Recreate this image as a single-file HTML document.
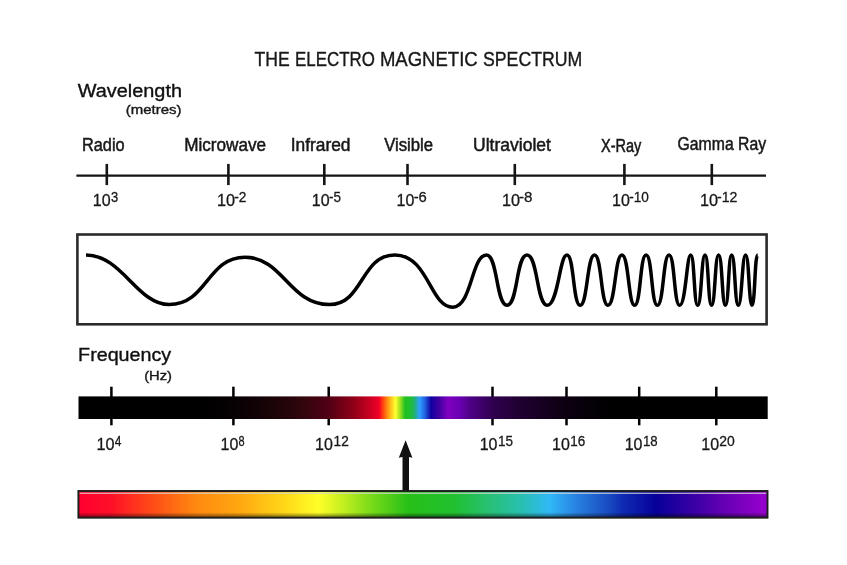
<!DOCTYPE html>
<html><head><meta charset="utf-8"><title>The Electro Magnetic Spectrum</title>
<style>html,body{margin:0;padding:0;background:#fff}svg{display:block}</style></head>
<body>
<svg width="847" height="565" viewBox="0 0 847 565" font-family='"Liberation Sans", sans-serif'>
<defs>
<linearGradient id="fg" gradientUnits="userSpaceOnUse" x1="78" y1="0" x2="768" y2="0">
<stop offset="0.0000" stop-color="#000000"/>
<stop offset="0.1768" stop-color="#000000"/>
<stop offset="0.2203" stop-color="#060103"/>
<stop offset="0.2493" stop-color="#0e0205"/>
<stop offset="0.2870" stop-color="#1c0408"/>
<stop offset="0.3246" stop-color="#30060c"/>
<stop offset="0.3623" stop-color="#500014"/>
<stop offset="0.4000" stop-color="#900018"/>
<stop offset="0.4188" stop-color="#c00020"/>
<stop offset="0.4362" stop-color="#f00028"/>
<stop offset="0.4399" stop-color="#ff2a14"/>
<stop offset="0.4493" stop-color="#ff9a10"/>
<stop offset="0.4600" stop-color="#ffff30"/>
<stop offset="0.4667" stop-color="#a0e020"/>
<stop offset="0.4739" stop-color="#20c020"/>
<stop offset="0.4812" stop-color="#20c030"/>
<stop offset="0.4877" stop-color="#20b070"/>
<stop offset="0.4949" stop-color="#30a0ff"/>
<stop offset="0.5029" stop-color="#2060e0"/>
<stop offset="0.5116" stop-color="#1000a0"/>
<stop offset="0.5232" stop-color="#4000a0"/>
<stop offset="0.5362" stop-color="#8000c0"/>
<stop offset="0.5536" stop-color="#6800b0"/>
<stop offset="0.5681" stop-color="#500088"/>
<stop offset="0.6000" stop-color="#300050"/>
<stop offset="0.6406" stop-color="#200030"/>
<stop offset="0.7072" stop-color="#0c0010"/>
<stop offset="0.7710" stop-color="#000000"/>
<stop offset="1.0000" stop-color="#000000"/>
</linearGradient>
<linearGradient id="sg" gradientUnits="userSpaceOnUse" x1="78" y1="0" x2="768" y2="0">
<stop offset="0.0000" stop-color="#ff0030"/>
<stop offset="0.0493" stop-color="#ff1028"/>
<stop offset="0.1043" stop-color="#ff4818"/>
<stop offset="0.1696" stop-color="#ff8810"/>
<stop offset="0.2348" stop-color="#ffa810"/>
<stop offset="0.3000" stop-color="#ffd818"/>
<stop offset="0.3486" stop-color="#ffff28"/>
<stop offset="0.3812" stop-color="#c8f020"/>
<stop offset="0.4304" stop-color="#70d818"/>
<stop offset="0.4783" stop-color="#28c018"/>
<stop offset="0.5449" stop-color="#20c030"/>
<stop offset="0.5928" stop-color="#28c070"/>
<stop offset="0.6420" stop-color="#28c0b0"/>
<stop offset="0.6841" stop-color="#30b8f8"/>
<stop offset="0.7232" stop-color="#2880e0"/>
<stop offset="0.7710" stop-color="#1848c0"/>
<stop offset="0.7884" stop-color="#0e2cb4"/>
<stop offset="0.8377" stop-color="#07009a"/>
<stop offset="0.8870" stop-color="#3400a4"/>
<stop offset="0.9348" stop-color="#6400b4"/>
<stop offset="0.9913" stop-color="#9400cc"/>
<stop offset="1.0000" stop-color="#9400cc"/>
</linearGradient>
<linearGradient id="shade" x1="0" y1="0" x2="0" y2="1">
<stop offset="0" stop-color="#000" stop-opacity="0"/>
<stop offset="0.8" stop-color="#000" stop-opacity="0"/>
<stop offset="1" stop-color="#000" stop-opacity="0.55"/>
</linearGradient>
</defs>
<rect width="847" height="565" fill="#fff"/>
<text><tspan x="254.50" y="65.7" font-size="21.1" fill="#181818" stroke="#181818" stroke-width="0.4" textLength="35.15" lengthAdjust="spacingAndGlyphs">THE</tspan> <tspan x="295.10" y="65.7" font-size="21.1" fill="#181818" stroke="#181818" stroke-width="0.4" textLength="79.75" lengthAdjust="spacingAndGlyphs">ELECTRO</tspan> <tspan x="379.90" y="65.7" font-size="21.1" fill="#181818" stroke="#181818" stroke-width="0.4" textLength="97.80" lengthAdjust="spacingAndGlyphs">MAGNETIC</tspan> <tspan x="483.00" y="65.7" font-size="21.1" fill="#181818" stroke="#181818" stroke-width="0.4" textLength="99.35" lengthAdjust="spacingAndGlyphs">SPECTRUM</tspan></text>
<text x="77.75" y="96.6" font-size="18" fill="#101010" stroke="#101010" stroke-width="0.35" textLength="104.25" lengthAdjust="spacingAndGlyphs">Wavelength</text>
<text x="125.75" y="114.2" font-size="13.5" fill="#181818" stroke="#181818" stroke-width="0.4" textLength="55.70" lengthAdjust="spacingAndGlyphs">(metres)</text>
<path d="M76.4 175.6H766" stroke="#151515" stroke-width="2.3" fill="none"/>
<path d="M106.8 163.9V185.1" stroke="#151515" stroke-width="2.6" fill="none"/>
<path d="M228.4 163.9V185.1" stroke="#151515" stroke-width="2.6" fill="none"/>
<path d="M324.3 163.9V185.1" stroke="#151515" stroke-width="2.6" fill="none"/>
<path d="M407.5 163.9V185.1" stroke="#151515" stroke-width="2.6" fill="none"/>
<path d="M514.8 163.9V185.1" stroke="#151515" stroke-width="2.6" fill="none"/>
<path d="M624.4 163.9V185.1" stroke="#151515" stroke-width="2.6" fill="none"/>
<path d="M711.8 163.9V185.1" stroke="#151515" stroke-width="2.6" fill="none"/>
<text x="82.00" y="150.9" font-size="17.6" fill="#181818" stroke="#181818" stroke-width="0.5" textLength="42.65" lengthAdjust="spacingAndGlyphs">Radio</text>
<text x="184.20" y="150.9" font-size="17.6" fill="#181818" stroke="#181818" stroke-width="0.5" textLength="81.95" lengthAdjust="spacingAndGlyphs">Microwave</text>
<text x="290.65" y="150.9" font-size="17.6" fill="#181818" stroke="#181818" stroke-width="0.5" textLength="59.90" lengthAdjust="spacingAndGlyphs">Infrared</text>
<text x="384.15" y="150.9" font-size="17.6" fill="#181818" stroke="#181818" stroke-width="0.5" textLength="49.00" lengthAdjust="spacingAndGlyphs">Visible</text>
<text x="473.00" y="150.9" font-size="17.6" fill="#181818" stroke="#181818" stroke-width="0.5" textLength="77.90" lengthAdjust="spacingAndGlyphs">Ultraviolet</text>
<text x="601.00" y="151.8" font-size="17.6" fill="#181818" stroke="#181818" stroke-width="0.5" textLength="40.40" lengthAdjust="spacingAndGlyphs">X-Ray</text>
<text x="677.55" y="150.4" font-size="17.6" fill="#181818" stroke="#181818" stroke-width="0.5" textLength="88.55" lengthAdjust="spacingAndGlyphs">Gamma Ray</text>
<text><tspan x="92.85" y="205.9" font-size="17.0" fill="#181818" stroke="#181818" stroke-width="0.3" textLength="17.80" lengthAdjust="spacingAndGlyphs">10</tspan><tspan x="110.95" y="201.8" font-size="15.4" fill="#181818" stroke="#181818" stroke-width="0.3" textLength="7.20" lengthAdjust="spacingAndGlyphs">3</tspan></text>
<text><tspan x="216.90" y="205.9" font-size="17.0" fill="#181818" stroke="#181818" stroke-width="0.3" textLength="18.05" lengthAdjust="spacingAndGlyphs">10</tspan><tspan x="234.30" y="201.8" font-size="15.4" fill="#181818" stroke="#181818" stroke-width="0.3" textLength="12.20" lengthAdjust="spacingAndGlyphs">-2</tspan></text>
<text><tspan x="311.85" y="205.9" font-size="17.0" fill="#181818" stroke="#181818" stroke-width="0.3" textLength="17.80" lengthAdjust="spacingAndGlyphs">10</tspan><tspan x="329.00" y="201.8" font-size="15.4" fill="#181818" stroke="#181818" stroke-width="0.3" textLength="12.00" lengthAdjust="spacingAndGlyphs">-5</tspan></text>
<text><tspan x="396.50" y="205.9" font-size="17.0" fill="#181818" stroke="#181818" stroke-width="0.3" textLength="17.80" lengthAdjust="spacingAndGlyphs">10</tspan><tspan x="413.65" y="201.8" font-size="15.4" fill="#181818" stroke="#181818" stroke-width="0.3" textLength="13.15" lengthAdjust="spacingAndGlyphs">-6</tspan></text>
<text><tspan x="501.90" y="205.9" font-size="17.0" fill="#181818" stroke="#181818" stroke-width="0.3" textLength="18.05" lengthAdjust="spacingAndGlyphs">10</tspan><tspan x="519.05" y="201.8" font-size="15.4" fill="#181818" stroke="#181818" stroke-width="0.3" textLength="13.45" lengthAdjust="spacingAndGlyphs">-8</tspan></text>
<text><tspan x="612.00" y="205.9" font-size="17.0" fill="#181818" stroke="#181818" stroke-width="0.3" textLength="17.80" lengthAdjust="spacingAndGlyphs">10</tspan><tspan x="629.15" y="201.8" font-size="15.4" fill="#181818" stroke="#181818" stroke-width="0.3" textLength="19.70" lengthAdjust="spacingAndGlyphs">-10</tspan></text>
<text><tspan x="699.90" y="205.9" font-size="17.0" fill="#181818" stroke="#181818" stroke-width="0.3" textLength="18.05" lengthAdjust="spacingAndGlyphs">10</tspan><tspan x="717.05" y="201.8" font-size="15.4" fill="#181818" stroke="#181818" stroke-width="0.3" textLength="20.45" lengthAdjust="spacingAndGlyphs">-12</tspan></text>
<rect x="77.4" y="234.5" width="689.2" height="89.8" fill="#fff" stroke="#2a2a2a" stroke-width="2.6"/>
<path d="M86.00 255.00 C122.00 255.00 137.20 304.60 169.20 304.60 C207.20 304.60 207.00 257.20 245.00 257.20 C283.00 257.20 289.40 304.60 329.40 304.60 C363.40 304.60 360.70 255.00 394.70 255.00 C428.70 255.00 429.80 307.20 452.80 307.20 C471.80 307.20 471.50 255.00 486.50 255.00 C497.80 255.00 496.00 305.30 507.00 305.30 C518.00 305.30 516.00 255.00 527.00 255.00 C538.00 255.00 536.52 305.30 547.30 305.30 C558.08 305.30 559.58 255.00 566.90 255.00 C574.22 255.00 572.88 305.30 580.20 305.30 C587.52 305.30 587.08 255.00 594.50 255.00 C601.92 255.00 600.58 305.30 608.00 305.30 C615.42 305.30 614.91 255.00 621.90 255.00 C628.88 255.00 628.27 305.30 634.60 305.30 C640.93 305.30 639.88 255.00 646.10 255.00 C652.32 255.00 651.18 305.30 657.40 305.30 C663.62 305.30 663.12 255.00 669.00 255.00 C674.88 255.00 673.82 305.30 679.70 305.30 C685.59 305.30 686.85 255.00 690.70 255.00 C694.55 255.00 693.85 305.30 697.70 305.30 C701.55 305.30 701.37 255.00 705.00 255.00 C708.63 255.00 707.97 305.30 711.60 305.30 C715.23 305.30 714.86 255.00 718.60 255.00 C722.34 255.00 721.93 305.30 725.40 305.30 C728.87 305.30 728.24 255.00 731.70 255.00 C735.17 255.00 734.67 305.30 738.30 305.30 C741.93 305.30 742.08 255.00 745.60 255.00 C749.12 255.00 748.87 305.30 752.00 305.30 C755.13 305.30 754.57 255.00 757.70 255.00" fill="none" stroke="#000" stroke-width="3.5" stroke-linejoin="round"/>
<text x="78.10" y="360.8" font-size="17.8" fill="#101010" stroke="#101010" stroke-width="0.35" textLength="93.10" lengthAdjust="spacingAndGlyphs">Frequency</text>
<text x="144.20" y="379.9" font-size="13.5" fill="#181818" stroke="#181818" stroke-width="0.4" textLength="27.75" lengthAdjust="spacingAndGlyphs">(Hz)</text>
<path d="M111.4 386.7V425.3" stroke="#000" stroke-width="2.5" fill="none"/>
<path d="M233.4 386.7V425.3" stroke="#000" stroke-width="2.5" fill="none"/>
<path d="M328.7 386.7V425.3" stroke="#000" stroke-width="2.5" fill="none"/>
<path d="M492.5 386.7V425.3" stroke="#000" stroke-width="2.5" fill="none"/>
<path d="M566.5 386.7V425.3" stroke="#000" stroke-width="2.5" fill="none"/>
<path d="M639.2 386.7V425.3" stroke="#000" stroke-width="2.5" fill="none"/>
<path d="M716.3 386.7V425.3" stroke="#000" stroke-width="2.5" fill="none"/>
<rect x="78.5" y="396.4" width="689.2" height="22.6" fill="url(#fg)"/>
<text><tspan x="96.40" y="449.6" font-size="17.0" fill="#181818" stroke="#181818" stroke-width="0.3" textLength="18.05" lengthAdjust="spacingAndGlyphs">10</tspan><tspan x="114.75" y="445.5" font-size="15.4" fill="#181818" stroke="#181818" stroke-width="0.3" textLength="6.65" lengthAdjust="spacingAndGlyphs">4</tspan></text>
<text><tspan x="220.50" y="449.6" font-size="17.0" fill="#181818" stroke="#181818" stroke-width="0.3" textLength="17.80" lengthAdjust="spacingAndGlyphs">10</tspan><tspan x="238.60" y="445.5" font-size="15.4" fill="#181818" stroke="#181818" stroke-width="0.3" textLength="6.10" lengthAdjust="spacingAndGlyphs">8</tspan></text>
<text><tspan x="315.05" y="449.6" font-size="17.0" fill="#181818" stroke="#181818" stroke-width="0.3" textLength="17.80" lengthAdjust="spacingAndGlyphs">10</tspan><tspan x="333.60" y="445.5" font-size="15.4" fill="#181818" stroke="#181818" stroke-width="0.3" textLength="15.20" lengthAdjust="spacingAndGlyphs">12</tspan></text>
<text><tspan x="479.70" y="449.6" font-size="17.0" fill="#181818" stroke="#181818" stroke-width="0.3" textLength="17.80" lengthAdjust="spacingAndGlyphs">10</tspan><tspan x="498.00" y="445.5" font-size="15.4" fill="#181818" stroke="#181818" stroke-width="0.3" textLength="15.05" lengthAdjust="spacingAndGlyphs">15</tspan></text>
<text><tspan x="552.00" y="449.6" font-size="17.0" fill="#181818" stroke="#181818" stroke-width="0.3" textLength="17.80" lengthAdjust="spacingAndGlyphs">10</tspan><tspan x="570.30" y="445.5" font-size="15.4" fill="#181818" stroke="#181818" stroke-width="0.3" textLength="15.00" lengthAdjust="spacingAndGlyphs">16</tspan></text>
<text><tspan x="624.70" y="449.6" font-size="17.0" fill="#181818" stroke="#181818" stroke-width="0.3" textLength="17.80" lengthAdjust="spacingAndGlyphs">10</tspan><tspan x="643.00" y="445.5" font-size="15.4" fill="#181818" stroke="#181818" stroke-width="0.3" textLength="14.70" lengthAdjust="spacingAndGlyphs">18</tspan></text>
<text><tspan x="701.35" y="449.6" font-size="17.0" fill="#181818" stroke="#181818" stroke-width="0.3" textLength="17.80" lengthAdjust="spacingAndGlyphs">10</tspan><tspan x="719.20" y="445.5" font-size="15.4" fill="#181818" stroke="#181818" stroke-width="0.3" textLength="15.50" lengthAdjust="spacingAndGlyphs">20</tspan></text>
<path d="M405.6 440.3 L412.4 457.8 Q405.6 455.6 398.8 457.8 Z" fill="#111"/>
<rect x="402.5" y="456" width="6.5" height="35" fill="#111"/>
<rect x="78.4" y="491" width="689.1" height="26.7" fill="url(#sg)"/>
<rect x="78.4" y="491" width="689.1" height="26.7" fill="url(#shade)"/>
<path d="M79.3 493.3H766.6" stroke="#d4d4d4" stroke-width="1.1"/>
<rect x="78.4" y="491" width="689.1" height="26.7" fill="none" stroke="#1c1c1c" stroke-width="1.9"/>
</svg>
</body></html>
